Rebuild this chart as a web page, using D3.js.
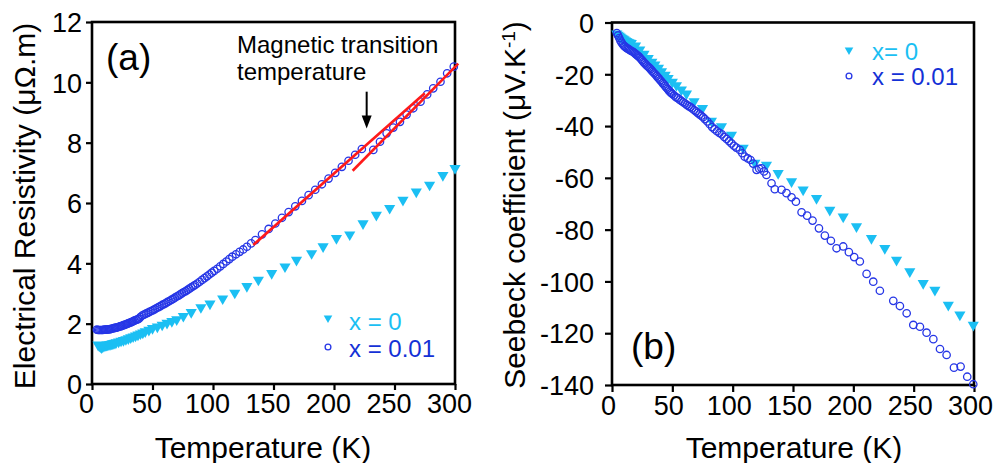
<!DOCTYPE html>
<html>
<head>
<meta charset="utf-8">
<script src="https://cdn.jsdelivr.net/npm/d3@7"></script>
<style>
  html, body { margin: 0; padding: 0; background: #fff; }
  svg { display: block; }
  text { font-family: Arial, "Liberation Sans", sans-serif; }
</style>
</head>
<body>
<svg id="chart" width="996" height="463"></svg>
<script>
// ---------- DATA ----------
const xTicks = [0, 50, 100, 150, 200, 250, 300];
const yTicksA = [0, 2, 4, 6, 8, 10, 12];
const yTicksB = [0, -20, -40, -60, -80, -100, -120, -140];
const legendLabelsA = ["x = 0", "x = 0.01"];
const legendLabelsB = ["x= 0", "x = 0.01"];

// Panel (a): electrical resistivity, x = 0 (triangles)
const resT0 = [5,6,7,8,9,10,11,12,13,14,15,16,17,18,19,20,22,24,26,28,30,32,34,36,38,40,42,44,47,50,54,58,62,66,70,75.5,82,90,97.5,108,118,128,137.5,148.5,159.5,169,181.5,191,202,213,224,235,246,257,268,279,290,300];
const resV0 = [1.30,1.27,1.24,1.21,1.24,1.27,1.28,1.29,1.30,1.31,1.32,1.33,1.34,1.35,1.36,1.38,1.40,1.43,1.45,1.48,1.51,1.54,1.57,1.60,1.63,1.67,1.70,1.74,1.79,1.85,1.90,1.96,2.02,2.08,2.14,2.25,2.38,2.54,2.66,2.83,3.02,3.24,3.45,3.67,3.89,4.11,4.33,4.56,4.83,4.95,5.32,5.60,5.83,6.10,6.37,6.60,6.92,7.15];

// Panel (a): electrical resistivity, x = 0.01 (circles)
const resT1 = [4,5,6,7,8,9,10,11,12,13,14,15,16,17,18,19,20,21,22,23,24,25,26,27,28,29,30,31,32,33,34,35,36,37,38,39,40,41.5,43,44.5,46,47.5,49,50.5,52,53.5,55,56.5,58,59.5,61,62.5,64,65.5,67,68.5,70,71.5,73,74.5,76,77.5,79,80.5,82,83.5,85,87,89,91,93,95,97,99,101,103.5,106,108.5,111,113.5,116,119,122,125,128,131.5,135,140.5,146,151.5,157,162.5,168,173.5,179,184.5,190,195.5,201,206.5,212,217.5,223,232.5,238,243.5,249,254.5,260,265.5,271.5,277,282,288,293.5,299];
const resV1 = [1.80,1.79,1.79,1.79,1.79,1.79,1.80,1.80,1.80,1.81,1.81,1.82,1.83,1.84,1.85,1.86,1.87,1.88,1.89,1.91,1.92,1.93,1.95,1.96,1.98,1.99,2.01,2.03,2.04,2.06,2.08,2.10,2.12,2.13,2.15,2.17,2.22,2.27,2.30,2.33,2.36,2.39,2.42,2.45,2.48,2.52,2.55,2.58,2.62,2.65,2.68,2.72,2.75,2.79,2.82,2.86,2.90,2.93,2.97,3.01,3.05,3.08,3.12,3.16,3.20,3.24,3.28,3.33,3.39,3.45,3.51,3.57,3.63,3.69,3.75,3.82,3.90,3.98,4.06,4.14,4.22,4.30,4.38,4.46,4.55,4.66,4.77,4.96,5.14,5.32,5.51,5.70,5.89,6.07,6.26,6.44,6.62,6.81,7.00,7.20,7.40,7.60,7.79,7.76,8.03,8.31,8.50,8.69,8.93,9.14,9.36,9.60,9.80,10.02,10.30,10.52];

// Panel (a): linear fits (red) and annotation arrow
const fitT1 = [133.3, 275.0];
const fitV1 = [4.61, 9.64];
const fitT2 = [215.4, 302.7];
const fitV2 = [7.07, 10.62];
const arrowT = 227;
const arrowV = [9.69, 8.47];
const annotation = ["Magnetic transition", "temperature"];

// Panel (b): Seebeck coefficient, x = 0 (triangles)
const seeT0 = [4,5,6,7,8,9,10,11,12,13,14,15,16,19.5,23,26.5,30,33,35.5,38.5,41,44,46.5,50,53.4,57.5,61.7,68,75,82.4,90.7,99,108.7,118.4,128,137.7,148.8,158.4,169.5,180.5,191.6,202.6,215,226.1,235.8,246.8,257.9,267.6,278.7,288.3,299.4];
const seeV0 = [-4.3,-4.8,-5.2,-5.6,-6.0,-6.3,-6.6,-6.9,-7.2,-7.5,-7.7,-7.9,-8.0,-9.0,-10.5,-12.2,-13.8,-15.2,-16.3,-17.6,-18.9,-20.3,-21.5,-23.0,-24.3,-26.0,-27.5,-30.5,-33.1,-38.0,-40.2,-43.4,-48.5,-54.3,-55.0,-58.2,-61.4,-64.6,-67.9,-72.4,-75.0,-78.8,-83.3,-87.2,-91.7,-96.2,-100.7,-103.3,-109.1,-112.9,-116.8];

// Panel (b): Seebeck coefficient, x = 0.01 (circles)
const seeT1 = [4,5,6,7,8,9,10,11,12,13,14,15,16,17,18,19,20,21,22,23,24,25,26,27,28,29,30,31,32,33,34,35,36,37,38,39,40,41,42,43,44,45,46,47,48,49,50,51.5,53,54.5,56,57.5,59,60.5,62,63.5,65,66.5,68,69.5,71,72.5,74,75.5,77,79,81,83,85,87,89,91,93,95,97,99,101,103,105.9,108,110,112.5,114.8,117,119.8,122,123.9,126,128,132.2,134.9,140.5,144.6,148.8,152.4,157.1,161.7,166.2,171.5,176.4,181.4,186.1,191.6,196.3,200.7,205.4,211,216.5,222,233.1,238.6,244.2,249.7,255.2,260.7,266.3,271.8,277.3,283.4,288.9,294.4,299.4];
const seeV1 = [-4.1,-5.0,-6.0,-7.0,-7.8,-8.5,-9.0,-9.4,-9.8,-10.1,-10.4,-10.7,-11.0,-11.2,-11.5,-11.9,-12.3,-12.7,-13.1,-13.5,-14.1,-14.6,-15.2,-15.7,-16.2,-16.7,-17.1,-17.5,-18.0,-18.6,-19.1,-19.6,-20.1,-20.6,-21.2,-21.7,-22.3,-22.8,-23.4,-23.9,-24.5,-25.1,-25.6,-26.2,-26.7,-27.2,-27.6,-28.2,-28.8,-29.2,-29.8,-30.3,-30.8,-31.3,-31.8,-32.3,-32.7,-33.2,-33.8,-34.3,-34.9,-35.5,-36.0,-36.6,-37.3,-38.2,-39.3,-40.4,-41.2,-42.0,-42.6,-43.2,-44.2,-45.0,-45.8,-46.7,-47.6,-48.3,-49.2,-50.5,-51.8,-52.5,-53.1,-54.5,-56.9,-56.5,-56.3,-57.5,-58.9,-62.1,-64.4,-64.6,-65.9,-67.5,-69.2,-73.3,-74.6,-76.5,-79.5,-82.3,-84.3,-87.2,-86.5,-88.7,-90.6,-92.3,-97.1,-100.1,-103.6,-107.5,-109.5,-112.3,-116.8,-117.5,-119.8,-122.3,-126.1,-128.4,-133.3,-132.9,-136.8,-139.7];

// ---------- STYLE ----------
const FONT = 'Arial, "Liberation Sans", sans-serif';
const LIGHT = "#1bbff3";
const DARK = "#2636e6";
const DARK_TEXT = "#1431d6";
const RED = "#ff1a1a";

const svg = d3.select("#chart");
const zip = (a, b) => a.map((v, i) => [v, b[i]]);

function panel(opts) {
  const { x, y, yTicks, xdx, ylabGap, tickLen } = opts;
  const g = svg.append("g");
  const [x0, x1] = x.range();
  const [y0, y1] = y.range();

  const xAxis = d3.axisBottom(x).tickValues(xTicks).tickSize(tickLen).tickSizeOuter(0).tickFormat(d3.format("d"));
  const yAxis = d3.axisLeft(y).tickValues(yTicks).tickSize(tickLen).tickSizeOuter(0).tickFormat(d => (d < 0 ? "-" + Math.abs(d) : String(d)));
  const gx = g.append("g").attr("transform", `translate(0,${y0})`).call(xAxis);
  const gy = g.append("g").attr("transform", `translate(${x0},0)`).call(yAxis);
  [gx, gy].forEach(a => {
    a.select(".domain").remove();
    a.selectAll(".tick line").attr("stroke", "#000").attr("stroke-width", 2.2);
    a.selectAll(".tick text").attr("fill", "#000").style("font-family", FONT).style("font-size", "27px");
  });
  gx.selectAll(".tick text").attr("y", tickLen + 4).attr("dy", "0.71em").attr("dx", xdx);
  gy.selectAll(".tick text").attr("x", -(tickLen + ylabGap)).attr("dy", "0.36em");

  g.append("rect")
    .attr("x", x0).attr("y", y1).attr("width", x1 - x0).attr("height", y0 - y1)
    .attr("fill", "none").attr("stroke", "#000").attr("stroke-width", 2.6);
  return g;
}

function drawTriangles(g, pts, x, y, color, size) {
  g.append("g").selectAll("path").data(pts).join("path")
    .attr("d", d3.symbol(d3.symbolTriangle, size)())
    .attr("transform", d => `translate(${x(d[0])},${y(d[1])}) rotate(180)`)
    .attr("fill", color);
}
function drawCircles(g, pts, x, y, color, r) {
  g.append("g").selectAll("circle").data(pts).join("circle")
    .attr("cx", d => x(d[0])).attr("cy", d => y(d[1])).attr("r", r)
    .attr("fill", "none").attr("stroke", color).attr("stroke-width", 1.3);
}

// ---------- PANEL (a) ----------
const xa = d3.scaleLinear().domain([0, 300]).range([92, 455]);
const ya = d3.scaleLinear().domain([0, 12]).range([384, 22]);
const ga = panel({ x: xa, y: ya, yTicks: yTicksA, xdx: -6, ylabGap: 4, tickLen: 6 });

drawTriangles(ga, zip(resT0, resV0), xa, ya, LIGHT, 54);
drawCircles(ga, zip(resT1, resV1), xa, ya, DARK, 3.7);

const line = d3.line().x(d => xa(d[0])).y(d => ya(d[1]));
ga.append("path").attr("d", line(zip(fitT1, fitV1))).attr("stroke", RED).attr("stroke-width", 2.6).attr("fill", "none");
ga.append("path").attr("d", line(zip(fitT2, fitV2))).attr("stroke", RED).attr("stroke-width", 2.6).attr("fill", "none");

const ax = xa(arrowT), ayTop = ya(arrowV[0]), ayTip = ya(arrowV[1]);
ga.append("line").attr("x1", ax).attr("x2", ax).attr("y1", ayTop).attr("y2", ayTip - 10)
  .attr("stroke", "#000").attr("stroke-width", 2);
ga.append("path").attr("d", `M${ax - 5},${ayTip - 13} L${ax + 5},${ayTip - 13} L${ax},${ayTip} Z`).attr("fill", "#000");

const ann = ga.append("text").attr("x", 237).attr("y", 53).style("font-size", "24px").attr("fill", "#000");
ann.selectAll("tspan").data(annotation).join("tspan")
  .attr("x", 237).attr("dy", (d, i) => (i === 0 ? 0 : 27)).text(d => d);

ga.append("text").attr("x", 106).attr("y", 70).style("font-size", "37px").attr("fill", "#000").text("(a)");

ga.append("path").attr("d", d3.symbol(d3.symbolTriangle, 32)()).attr("transform", "translate(328,318) rotate(180)").attr("fill", LIGHT);
ga.append("circle").attr("cx", 328).attr("cy", 347).attr("r", 2.9).attr("fill", "none").attr("stroke", DARK).attr("stroke-width", 1.3);
ga.append("text").attr("x", 349).attr("y", 330).style("font-size", "24px").attr("fill", LIGHT).text(legendLabelsA[0]);
ga.append("text").attr("x", 349).attr("y", 357).style("font-size", "24px").attr("fill", DARK_TEXT).text(legendLabelsA[1]);

svg.append("text").attr("x", 263).attr("y", 458).attr("text-anchor", "middle").style("font-size", "30px").text("Temperature (K)");
svg.append("text").attr("transform", "translate(35,206) rotate(-90)").attr("text-anchor", "middle").style("font-size", "30px")
  .text("Electrical Resistivity (\u03bc\u03a9.m)");

// ---------- PANEL (b) ----------
const xb = d3.scaleLinear().domain([0, 300]).range([612, 974]);
const yb = d3.scaleLinear().domain([-140, 0]).range([385, 22.5]);
const gb = panel({ x: xb, y: yb, yTicks: yTicksB, xdx: -4, ylabGap: 11, tickLen: 7 });

drawTriangles(gb, zip(seeT0, seeV0), xb, yb, LIGHT, 54);
drawCircles(gb, zip(seeT1, seeV1), xb, yb, DARK, 3.7);

gb.append("text").attr("x", 631).attr("y", 359).style("font-size", "37px").attr("fill", "#000").text("(b)");

gb.append("path").attr("d", d3.symbol(d3.symbolTriangle, 32)()).attr("transform", "translate(849,50) rotate(180)").attr("fill", LIGHT);
gb.append("circle").attr("cx", 849).attr("cy", 76).attr("r", 2.9).attr("fill", "none").attr("stroke", DARK).attr("stroke-width", 1.3);
gb.append("text").attr("x", 872).attr("y", 60).style("font-size", "24px").attr("fill", LIGHT).text(legendLabelsB[0]);
gb.append("text").attr("x", 872).attr("y", 85).style("font-size", "24px").attr("fill", DARK_TEXT).text(legendLabelsB[1]);

svg.append("text").attr("x", 794).attr("y", 458).attr("text-anchor", "middle").style("font-size", "30px").text("Temperature (K)");
const yt = svg.append("text").attr("transform", "translate(525,205) rotate(-90)").attr("text-anchor", "middle").style("font-size", "30px");
yt.append("tspan").text("Seebeck coefficient (\u03bcV.K");
yt.append("tspan").attr("dy", "-0.55em").style("font-size", "19px").text("-1");
yt.append("tspan").attr("dy", "0.35em").text(")");
</script>
</body>
</html>
